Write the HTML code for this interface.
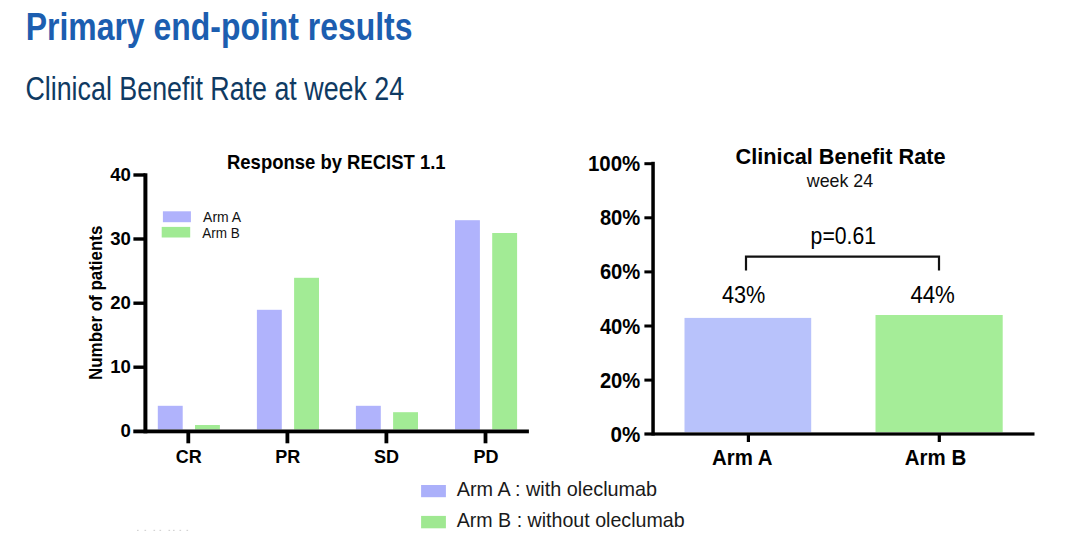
<!DOCTYPE html>
<html>
<head>
<meta charset="utf-8">
<title>Primary end-point results</title>
<style>
html,body{margin:0;padding:0;background:#fff;}
body{width:1080px;height:540px;overflow:hidden;position:relative;}
svg{display:block;position:absolute;left:0;top:0;}
text{font-family:"Liberation Sans",Arial,sans-serif;}
.b{font-weight:bold;}
</style>
</head>
<body>
<svg width="1080" height="540" viewBox="0 0 1080 540">
  <rect x="0" y="0" width="1080" height="540" fill="#fff"/>

  <!-- Slide title -->
  <text class="b" x="25.7" y="40.2" font-size="39.2" fill="#1c5eb0" textLength="386.8" lengthAdjust="spacingAndGlyphs">Primary end-point results</text>
  <text x="25.4" y="99.6" font-size="33" fill="#0f3a62" textLength="378.8" lengthAdjust="spacingAndGlyphs">Clinical Benefit Rate at week 24</text>

  <!-- ===== Left chart: Response by RECIST 1.1 ===== -->
  <text class="b" x="227" y="169" font-size="20.5" fill="#000" textLength="218.6" lengthAdjust="spacingAndGlyphs">Response by RECIST 1.1</text>

  <!-- legend -->
  <rect x="162.9" y="211.3" width="28" height="10.9" fill="#b0b2fc"/>
  <rect x="161.7" y="226.9" width="28.5" height="10.6" fill="#a0ea93"/>
  <text x="203.1" y="222.2" font-size="14.2" fill="#111" textLength="38" lengthAdjust="spacingAndGlyphs">Arm A</text>
  <text x="202.2" y="237.5" font-size="14.2" fill="#111" textLength="37.5" lengthAdjust="spacingAndGlyphs">Arm B</text>

  <!-- bars -->
  <g fill="#b0b3fc">
    <rect x="157.8" y="405.8" width="24.9" height="23.7"/>
    <rect x="256.9" y="309.8" width="24.9" height="119.7"/>
    <rect x="355.9" y="405.8" width="24.9" height="23.7"/>
    <rect x="455" y="220.2" width="24.9" height="209.3"/>
  </g>
  <g fill="#a2eb95">
    <rect x="195" y="425" width="24.9" height="4.5"/>
    <rect x="294.1" y="277.8" width="24.9" height="151.7"/>
    <rect x="393.1" y="412.2" width="24.9" height="17.3"/>
    <rect x="492.2" y="233" width="24.9" height="196.5"/>
  </g>

  <!-- axes -->
  <g fill="#000">
    <rect x="143.4" y="173.3" width="4" height="260"/>
    <rect x="133.3" y="429.5" width="395.6" height="3.8"/>
    <rect x="133.4" y="173.3" width="12" height="3.4"/>
    <rect x="133.4" y="237.3" width="12" height="3.4"/>
    <rect x="133.4" y="301.5" width="12" height="3.4"/>
    <rect x="133.4" y="365.5" width="12" height="3.4"/>
    <rect x="186.4" y="432" width="3.8" height="11.3"/>
    <rect x="285.5" y="432" width="3.8" height="11.3"/>
    <rect x="384.5" y="432" width="3.8" height="11.3"/>
    <rect x="483.6" y="432" width="3.8" height="11.3"/>
  </g>
  <g class="b" font-size="18.6" fill="#000" text-anchor="end">
    <text x="130.9" y="181.2">40</text>
    <text x="130.9" y="245.3">30</text>
    <text x="130.9" y="309.4">20</text>
    <text x="130.9" y="373.4">10</text>
    <text x="130.9" y="437.4">0</text>
  </g>
  <g class="b" font-size="18" fill="#000" text-anchor="middle">
    <text x="188.8" y="462.5">CR</text>
    <text x="287.8" y="462.5">PR</text>
    <text x="386.5" y="462.5">SD</text>
    <text x="485.9" y="462.5">PD</text>
  </g>
  <text class="b" transform="translate(102.4,380) rotate(-90)" x="0" y="0" font-size="18.6" fill="#000" textLength="154.4" lengthAdjust="spacingAndGlyphs">Number of patients</text>

  <!-- ===== Right chart: Clinical Benefit Rate ===== -->
  <text class="b" x="735.6" y="164.3" font-size="22.5" fill="#000" textLength="210" lengthAdjust="spacingAndGlyphs">Clinical Benefit Rate</text>
  <text x="806.8" y="187.4" font-size="18.5" fill="#111" textLength="66.4" lengthAdjust="spacingAndGlyphs">week 24</text>

  <rect x="684.5" y="317.9" width="126.7" height="114.3" fill="#b8c2fb"/>
  <rect x="875.5" y="315" width="127.2" height="117.2" fill="#a5ed98"/>

  <g fill="#000">
    <rect x="651.3" y="161.8" width="3.5" height="273.7"/>
    <rect x="644.4" y="432.4" width="390.1" height="3.2"/>
    <rect x="644.4" y="162.2" width="8" height="3"/>
    <rect x="644.4" y="216.3" width="8" height="3"/>
    <rect x="644.4" y="270.4" width="8" height="3"/>
    <rect x="644.4" y="324.5" width="8" height="3"/>
    <rect x="644.4" y="378.6" width="8" height="3"/>
    <rect x="746.8" y="434" width="3.2" height="8"/>
    <rect x="937.7" y="434" width="3.2" height="8"/>
  </g>
  <g class="b" font-size="21.2" fill="#000" text-anchor="end">
    <text x="640.3" y="170.8" textLength="52.3" lengthAdjust="spacingAndGlyphs">100%</text>
    <text x="640.3" y="225.1" textLength="40.4" lengthAdjust="spacingAndGlyphs">80%</text>
    <text x="640.3" y="279.3" textLength="40.4" lengthAdjust="spacingAndGlyphs">60%</text>
    <text x="640.3" y="333.5" textLength="40.4" lengthAdjust="spacingAndGlyphs">40%</text>
    <text x="640.3" y="387.7" textLength="40.4" lengthAdjust="spacingAndGlyphs">20%</text>
    <text x="640.3" y="442.1" textLength="29.8" lengthAdjust="spacingAndGlyphs">0%</text>
  </g>
  <path d="M746 270.6 V256.7 H939 V270.6" fill="none" stroke="#111" stroke-width="2.2"/>
  <text x="810.6" y="243.5" font-size="23" fill="#000" textLength="65.4" lengthAdjust="spacingAndGlyphs">p=0.61</text>
  <text x="722" y="302.9" font-size="23.4" fill="#000" textLength="43.4" lengthAdjust="spacingAndGlyphs">43%</text>
  <text x="910.4" y="303.3" font-size="23.4" fill="#000" textLength="44.5" lengthAdjust="spacingAndGlyphs">44%</text>
  <text class="b" x="712" y="465.2" font-size="22" fill="#000" textLength="60.4" lengthAdjust="spacingAndGlyphs">Arm A</text>
  <text class="b" x="904.8" y="465.1" font-size="22" fill="#000" textLength="61.4" lengthAdjust="spacingAndGlyphs">Arm B</text>

  <!-- ===== Bottom legend ===== -->
  <rect x="421.1" y="485" width="24.8" height="12.2" fill="#abb0fa"/>
  <rect x="421.1" y="515.9" width="24.8" height="12.4" fill="#9fe891"/>
  <text x="456.7" y="495.9" font-size="19.8" fill="#1a1a1a" textLength="200.4" lengthAdjust="spacingAndGlyphs">Arm A : with oleclumab</text>
  <text x="456.7" y="527.2" font-size="19.8" fill="#1a1a1a" textLength="227.9" lengthAdjust="spacingAndGlyphs">Arm B : without oleclumab</text>

  <!-- faint dots -->
  <g fill="#d4d4d4">
    <rect x="137" y="529.8" width="1.6" height="1.2"/>
    <rect x="144.5" y="529.8" width="1.6" height="1.2"/>
    <rect x="153.5" y="529.8" width="1.6" height="1.2"/>
    <rect x="159.5" y="529.8" width="1.6" height="1.2"/>
    <rect x="168.5" y="529.8" width="1.6" height="1.2"/>
    <rect x="173" y="529.8" width="1.6" height="1.2"/>
    <rect x="179.5" y="529.8" width="1.6" height="1.2"/>
    <rect x="186.5" y="529.8" width="1.6" height="1.2"/>
  </g>
</svg>
</body>
</html>
